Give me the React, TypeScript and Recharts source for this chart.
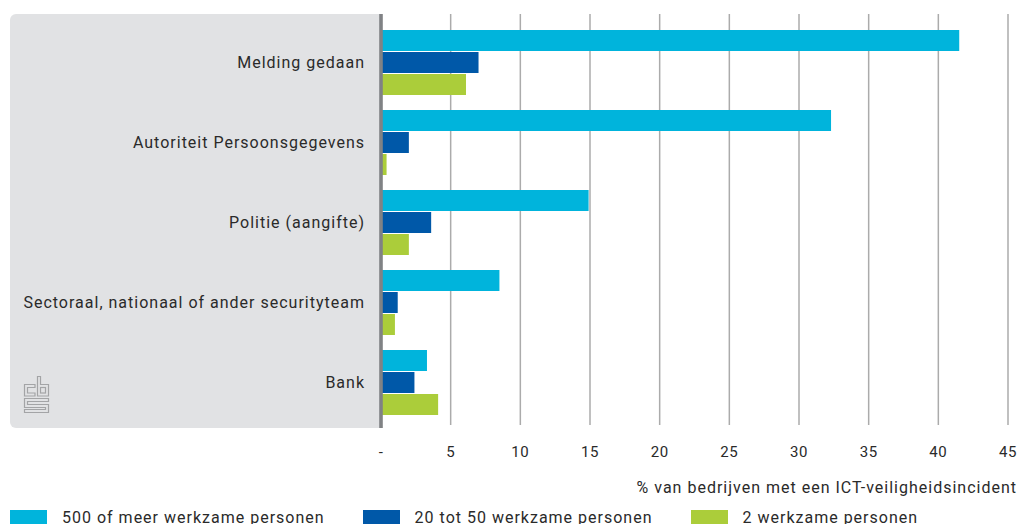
import React from "react";
import {
  BarChart,
  Bar,
  XAxis,
  YAxis,
  CartesianGrid,
  ReferenceLine,
  Legend,
} from "recharts";

const categories = [
  "Melding gedaan",
  "Autoriteit Persoonsgegevens",
  "Politie (aangifte)",
  "Sectoraal, nationaal of ander securityteam",
  "Bank",
];
const large = [41.5, 32.3, 14.9, 8.5, 3.3];
const medium = [7.0, 2.0, 3.6, 1.2, 2.4];
const single = [6.1, 0.4, 2.0, 1.0, 4.1];
const seriesNames = [
  "500 of meer werkzame personen",
  "20 tot 50 werkzame personen",
  "2 werkzame personen",
];
const xTicks = [0, 5, 10, 15, 20, 25, 30, 35, 40, 45];
const axisTitle = "% van bedrijven met een ICT-veiligheidsincident";

const COLORS = ["#00b4dc", "#0058a8", "#abcd3a"];
const FONT = "Roboto, 'DejaVu Sans', sans-serif";
const TEXT = "#2a2a2a";

const data = categories.map((c, i) => ({
  name: c,
  large: large[i],
  medium: medium[i],
  single: single[i],
}));

const GridLine = (props: any) => {
  const { x1, x2, y1, y2 } = props;
  if (x1 < 385) return <g key={props.key} />;
  return (
    <line
      key={props.key}
      x1={x1}
      x2={x2}
      y1={y1 - 8}
      y2={y2 + 3}
      stroke="#ababab"
      strokeWidth={1.5}
    />
  );
};

const AxisLineShape = (props: any) => {
  const { x1, x2, y1, y2 } = props;
  const top = Math.min(y1, y2) - 8;
  const bottom = Math.max(y1, y2) + 6;
  return (
    <line x1={x1} x2={x2} y1={top} y2={bottom} stroke="#808285" strokeWidth={3.6} />
  );
};

const AxisTitle = (props: any) => {
  const vb = props.viewBox || {};
  return (
    <text
      x={vb.x + vb.width + 9}
      y={493}
      textAnchor="end"
      fill={TEXT}
      fontFamily={FONT}
      fontSize={16}
      letterSpacing={1.0}
    >
      {axisTitle}
    </text>
  );
};

const LegendContent = (props: any) => {
  const payload = [...(props.payload || [])].sort(
    (a: any, b: any) => seriesNames.indexOf(a.value) - seriesNames.indexOf(b.value)
  );
  return (
    <div style={{ display: "flex", alignItems: "center", paddingLeft: 10 }}>
      {payload.map((p: any, i: number) => (
        <div
          key={i}
          style={{ display: "flex", alignItems: "center", marginRight: 38 }}
        >
          <div
            style={{ width: 37, height: 16, background: p.color, marginRight: 15 }}
          />
          <span
            style={{
              fontFamily: FONT,
              fontSize: 16,
              letterSpacing: 1.0,
              color: TEXT,
              whiteSpace: "nowrap",
            }}
          >
            {p.value}
          </span>
        </div>
      ))}
    </div>
  );
};

export default function App() {
  return (
    <div
      style={{
        position: "fixed",
        left: 0,
        top: 0,
        width: 1021,
        height: 524,
        overflow: "hidden",
        background: "#ffffff",
      }}
    >
      <div
        style={{
          position: "absolute",
          left: 10,
          top: 14,
          width: 372,
          height: 414,
          background: "#e1e2e4",
          borderRadius: "6px 0 0 6px",
        }}
      />
      <svg
        style={{ position: "absolute", left: 20, top: 372 }}
        width={34}
        height={45}
        viewBox="20 372 34 45"
      >
        <g fill="none" stroke="#a3a4a6" strokeWidth={1.2}>
          <path d="M35 384.5 H24.5 V396 H35 V393 H27.5 V387.5 H35 Z" />
          <path d="M37.5 376.5 H40.5 V384.5 H48.5 V396 H37.5 Z" />
          <rect x={40.5} y={387.5} width={5} height={5.5} />
          <path d="M24.5 398.5 H48.5 V401.5 H27.5 V404.5 H48.5 V412.5 H24.5 V409.5 H45.5 V407.5 H24.5 Z" />
        </g>
      </svg>
      <div style={{ position: "absolute", left: 0, top: 0 }}>
        <BarChart
          width={1021}
          height={560}
          data={data}
          layout="vertical"
          margin={{ top: 22, right: 13, bottom: 68, left: 0 }}
          barSize={21}
          barGap={1}
        >
          <CartesianGrid
            horizontal={false}
            vertical={GridLine as any}
            verticalValues={xTicks}
          />
          <XAxis
            type="number"
            domain={[0, 45]}
            ticks={xTicks}
            interval={0}
            axisLine={false}
            tickLine={false}
            tickSize={0}
            tickMargin={24}
            height={70}
            tick={{ fill: TEXT, fontFamily: FONT, fontSize: 15, letterSpacing: 0.6 }}
            tickFormatter={(v: number) => (v === 0 ? "-" : String(v))}
            label={<AxisTitle />}
          />
          <YAxis
            type="category"
            dataKey="name"
            width={381}
            axisLine={false}
            tickLine={false}
            tickSize={0}
            tickMargin={16}
            interval={0}
            tick={{ fill: TEXT, fontFamily: FONT, fontSize: 16, letterSpacing: 1.0 }}
          />
          <Bar
            dataKey="large"
            name={seriesNames[0]}
            fill={COLORS[0]}
            isAnimationActive={false}
          />
          <Bar
            dataKey="medium"
            name={seriesNames[1]}
            fill={COLORS[1]}
            isAnimationActive={false}
          />
          <Bar
            dataKey="single"
            name={seriesNames[2]}
            fill={COLORS[2]}
            isAnimationActive={false}
          />
          <ReferenceLine x={0} shape={AxisLineShape as any} />
          <Legend
            layout="horizontal"
            verticalAlign="middle"
            align="center"
            content={<LegendContent />}
            wrapperStyle={{ position: "absolute", left: 0, top: 508, width: 1021 }}
          />
        </BarChart>
      </div>
    </div>
  );
}
